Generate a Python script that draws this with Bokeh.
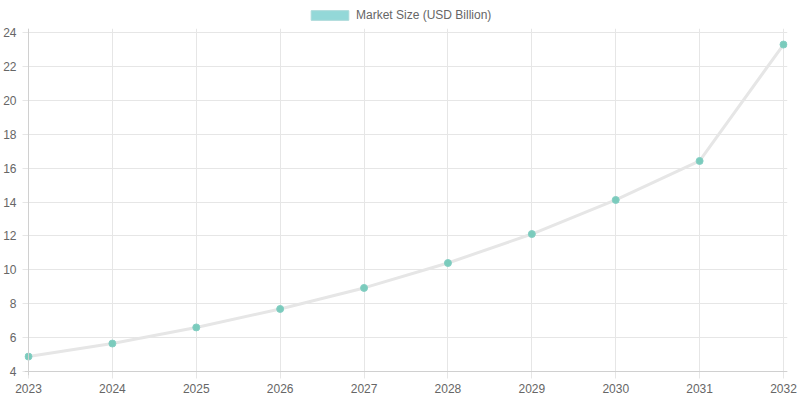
from bokeh.plotting import figure
from bokeh.models import Legend, LegendItem, SingleIntervalTicker, FixedTicker, Span, Range1d
from bokeh.layouts import column
from bokeh.embed import file_html
from bokeh.resources import INLINE

years = [2023, 2024, 2025, 2026, 2027, 2028, 2029, 2030, 2031, 2032]
market_size = [4.88, 5.65, 6.6, 7.69, 8.93, 10.4, 12.11, 14.12, 16.42, 23.29]
series_name = "Market Size (USD Billion)"
y_min, y_max, y_step = 4, 24, 2

# pad ranges by ~4px so end markers are not clipped
x_pad = (years[-1] - years[0]) / 756 * 4
y_pad = (y_max - y_min) / 339 * 4

# ---- legend strip ----
leg = figure(width=800, height=24, output_backend="svg", toolbar_location=None,
             x_range=Range1d(0, 800), y_range=Range1d(0, 24),
             min_border=0, x_axis_type=None, y_axis_type=None)
leg.outline_line_color = None
leg.xgrid.visible = False
leg.ygrid.visible = False
# off-screen sample glyph, only used for the legend swatch
dummy = leg.quad(left=[-20], right=[-10], top=[-10], bottom=[-20],
                 fill_color="#93d8d8", line_color="#a9d9d9", line_width=1)
legend = Legend(items=[LegendItem(label=series_name, renderers=[dummy])],
                location=(282, 2), orientation="horizontal",
                glyph_width=47, glyph_height=12, label_height=12,
                label_text_font="Liberation Sans",
                label_text_font_size="12px", label_text_color="#666666",
                border_line_color=None, background_fill_alpha=0,
                margin=0, padding=0, label_standoff=3)
leg.add_layout(legend, "center")

# ---- main chart ----
p = figure(width=800, height=376, output_backend="svg", toolbar_location=None,
           x_range=(years[0] - x_pad, years[-1] + x_pad), y_range=(y_min - y_pad, y_max + y_pad),
           min_border_left=23, min_border_right=13, min_border_bottom=25, min_border_top=4)
p.outline_line_color = None

p.line(years, market_size, line_color="#e6e6e6", line_width=3)
p.scatter(years, market_size, size=7, fill_color="#7acbbc", line_color="#86cfc4", line_width=1)

p.add_layout(Span(location=years[0], dimension="height", line_color="#d0d0d0", line_width=1))
p.add_layout(Span(location=y_min, dimension="width", line_color="#d0d0d0", line_width=1))

p.xaxis.ticker = FixedTicker(ticks=years)
p.yaxis.ticker = SingleIntervalTicker(interval=y_step)
for ax in (p.xaxis, p.yaxis):
    ax.major_label_text_font = "Liberation Sans"
    ax.major_label_text_font_size = "12px"
    ax.major_label_text_color = "#666666"
    ax.axis_line_color = None
    ax.major_tick_line_color = "#e6e6e6"
    ax.major_tick_in = 4
    ax.minor_tick_line_color = None
p.yaxis.major_tick_out = 2
p.xaxis.major_tick_out = 3
p.yaxis.major_label_standoff = 4
p.xaxis.major_label_standoff = 5

p.xgrid.grid_line_color = "#e6e6e6"
p.ygrid.grid_line_color = "#e6e6e6"
p.xgrid.ticker = FixedTicker(ticks=years)

layout = column(leg, p, spacing=0)
open("out.html", "w").write(file_html(layout, INLINE))
